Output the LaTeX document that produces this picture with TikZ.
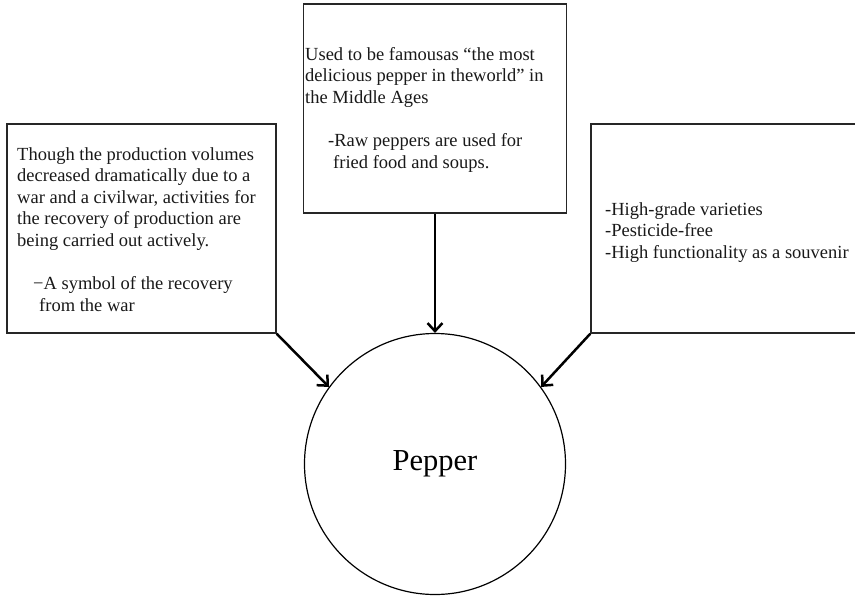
\documentclass[tikz,border=0pt]{standalone}
\usepackage{fontspec}
\setmainfont{Liberation Serif}
\usetikzlibrary{arrows.meta}
\begin{document}
\begin{tikzpicture}[x=1pt,y=-1pt,
  box/.style={draw=black!85, line width=1.4pt, rectangle, inner sep=0pt},
  txt/.style={inner sep=0pt, anchor=base west, align=left,
    font=\fontsize{18.5}{21.5}\selectfont, text=black!90},
  link/.style={line width=2.5pt, -{Straight Barb[length=8pt,width=15pt,line width=2.5pt]}}]
  \useasboundingbox (0,0) rectangle (855,598);
  \clip (0,0) rectangle (855,598);

  % boxes
  \node[box, minimum width=269pt, minimum height=209pt] (left) at (141.5,228.5) {};
  \node[box, minimum width=263pt, minimum height=209pt] (top) at (435,108.5) {};
  \node[box, minimum width=280pt, minimum height=209pt] (right) at (731,228.5) {};

  % central circle
  \node[circle, draw=black, line width=1.2pt, minimum size=261pt, inner sep=0pt,
    font=\fontsize{30.5}{34}\selectfont] (pepper) at (435,464) {Pepper};

  % texts (anchored at the baseline of their last line)
  \node[txt] (lefttext) at (17,246) {Though the production volumes\\
    decreased dramatically due to a\\war and a civilwar, activities for\\
    the recovery of production are\\being carried out actively.};
  \node[txt] (leftnote) at (33,311) {\textminus A symbol of the recovery\\\hspace*{6pt}from the war};
  \node[txt] (toptext) at (305,103) {Used to be famousas “the most\\
    delicious pepper in theworld” in\\the Middle Ages};
  \node[txt] (topnote) at (328,168) {-Raw peppers are used for\\\hspace*{5pt}fried food and soups.};
  \node[txt] (righttext) at (605,258) {-High-grade varieties\\-Pesticide-free\\
    -High functionality as a souvenir};

  % connectors
  \draw[link] (left.south east) -- (pepper.144);
  \draw[link] (top.south) -- (pepper.north);
  \draw[link] (right.south west) -- (pepper.36);
\end{tikzpicture}
\end{document}
